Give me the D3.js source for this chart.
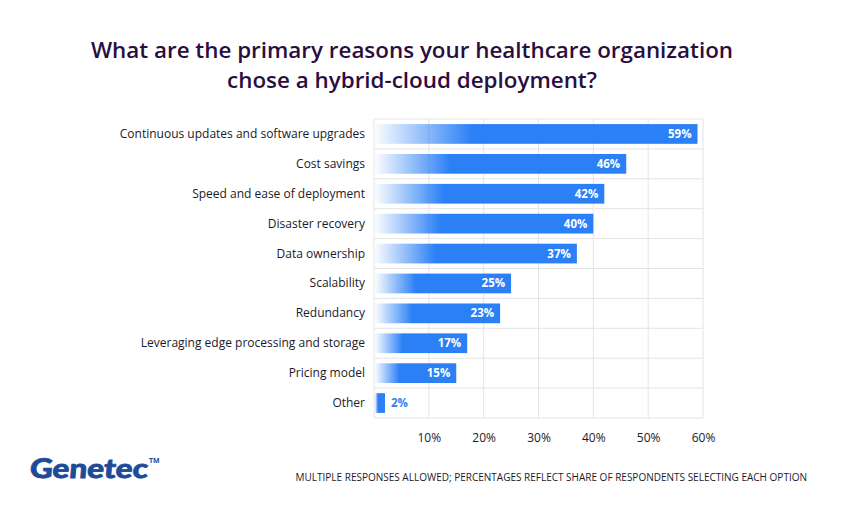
<!DOCTYPE html>
<html><head><meta charset="utf-8">
<script src="https://cdn.jsdelivr.net/npm/d3@7"></script>
<style>body{margin:0;background:#fff;} svg{display:block;}</style>
</head><body>
<svg id="c" width="850" height="520"></svg>
<script>
const categories = ["Continuous updates and software upgrades","Cost savings","Speed and ease of deployment","Disaster recovery","Data ownership","Scalability","Redundancy","Leveraging edge processing and storage","Pricing model","Other"];
const values = [59,46,42,40,37,25,23,17,15,2];
const tickValues = [10,20,30,40,50,60];
const titleLines = ["What are the primary reasons your healthcare organization","chose a hybrid-cloud deployment?"];
const footnote = "MULTIPLE RESPONSES ALLOWED; PERCENTAGES REFLECT SHARE OF RESPONDENTS SELECTING EACH OPTION";

const svg = d3.select("#c");
const font = "'Open Sans', 'Noto Sans', sans-serif";
const x = d3.scaleLinear().domain([0,60]).range([374,703]);
const y = d3.scaleBand().domain(categories).range([119,418]).paddingInner(0.34).paddingOuter(0.17);
const blue = "#2b80f6";

const defs = svg.append("defs");
const g = defs.append("linearGradient").attr("id","grad").attr("x1","0").attr("x2","1").attr("y1","0").attr("y2","0");
g.append("stop").attr("offset","0").attr("stop-color",blue).attr("stop-opacity",0.02);
g.append("stop").attr("offset","0.3").attr("stop-color",blue).attr("stop-opacity",1);
g.append("stop").attr("offset","1").attr("stop-color",blue).attr("stop-opacity",1);

// title
svg.append("g").selectAll("text").data(titleLines).join("text")
  .attr("x",412).attr("y",(d,i)=>58+i*30).attr("text-anchor","middle")
  .attr("font-family",font).attr("font-size",22.4).attr("font-weight",600)
  .attr("fill","#2a0e3f").text(d=>d);

// grid
const grid = svg.append("g").attr("stroke","#e4e4e4").attr("stroke-width",1).attr("fill","none");
grid.selectAll("line.v").data([0].concat(tickValues)).join("line").attr("class","v")
  .attr("x1",d=>x(d)).attr("x2",d=>x(d)).attr("y1",119).attr("y2",418);
const hs = categories.map(c=>y(c)-y.step()*y.paddingInner()/2).concat([418]);
grid.selectAll("line.h").data(hs).join("line").attr("class","h")
  .attr("x1",374).attr("x2",703).attr("y1",d=>d).attr("y2",d=>d);

// bars
svg.append("g").selectAll("rect").data(values).join("rect")
  .attr("x",x(0)+1).attr("y",(d,i)=>y(categories[i]))
  .attr("width",d=>x(d)-x(0)-1).attr("height",y.bandwidth())
  .attr("fill","url(#grad)");

// value labels
svg.append("g").selectAll("text").data(values).join("text")
  .attr("x",d=> d<5 ? x(d)+6 : x(d)-6)
  .attr("y",(d,i)=>y(categories[i])+y.bandwidth()/2+4)
  .attr("text-anchor",d=> d<5 ? "start":"end")
  .attr("font-family",font).attr("font-size",11.5).attr("font-weight",700)
  .attr("fill",d=> d<5 ? blue : "#fff").text(d=>d+"%");

// category labels
svg.append("g").selectAll("text").data(categories).join("text")
  .attr("x",365).attr("y",d=>y(d)+y.bandwidth()/2+4)
  .attr("text-anchor","end").attr("font-family",font).attr("font-size",12)
  .attr("fill","#1a1a2a").text(d=>d);

// x axis
const ax = svg.append("g").attr("transform","translate(0,427)")
  .call(d3.axisBottom(x).tickValues(tickValues).tickFormat(d=>d+"%").tickSize(0));
ax.select(".domain").remove();
ax.selectAll("text").attr("font-family",font).attr("font-size",12).attr("font-weight",500).attr("fill","#1a1a2a").attr("dy","1em");

// logo
svg.append("text").attr("x",29).attr("y",478)
  .attr("font-family","'Lato', 'DejaVu Sans', sans-serif").attr("font-size",27).attr("font-weight",900)
  .attr("transform","skewX(-5) translate(42,0)")
  .attr("stroke","#1e4a9a").attr("stroke-width",0.8)
  .attr("fill","#1e4a9a").attr("textLength",118).attr("lengthAdjust","spacingAndGlyphs").text("Genetec");
svg.append("text").attr("x",149).attr("y",463).attr("font-family",font).attr("font-size",7)
  .attr("font-weight",700).attr("fill","#1e4a9a").text("TM");

// footnote
svg.append("text").attr("x",807).attr("y",481).attr("text-anchor","end")
  .attr("font-family",font).attr("font-size",10).attr("font-weight",500).attr("fill","#1a1a2a").text(footnote);
</script>
</body></html>
